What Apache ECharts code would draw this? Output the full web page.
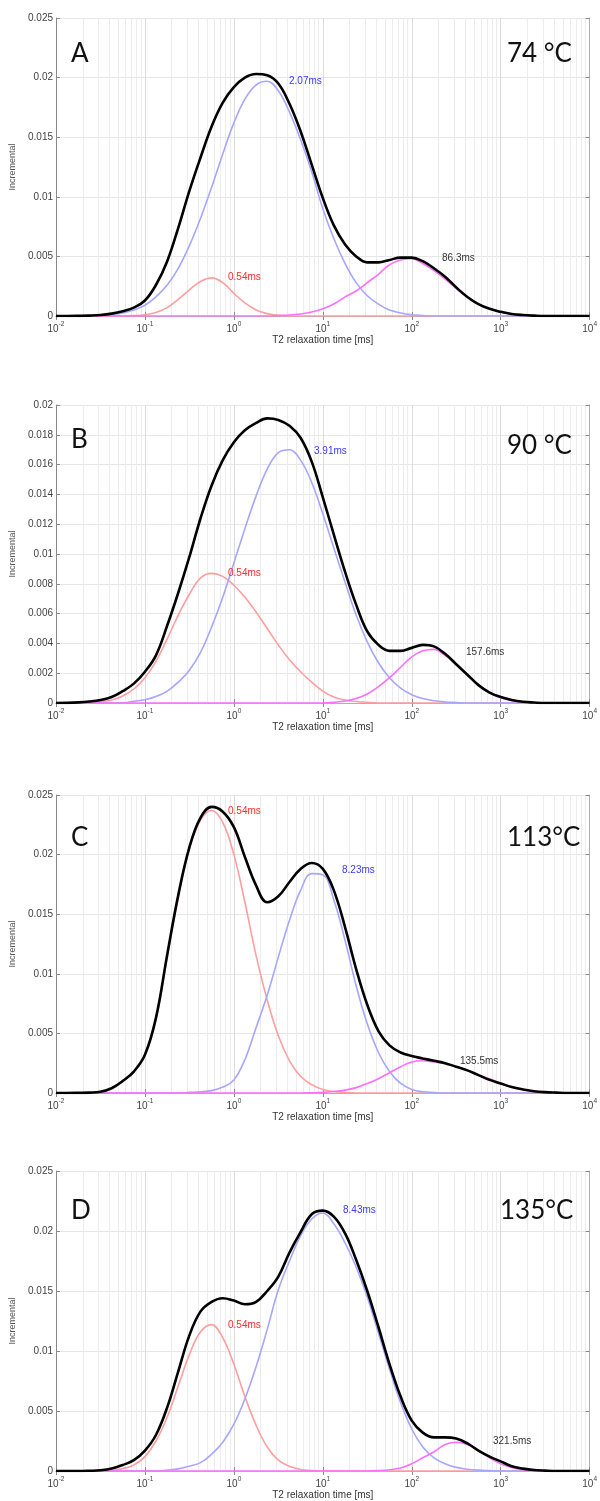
<!DOCTYPE html>
<html><head><meta charset="utf-8">
<script src="https://cdn.jsdelivr.net/npm/echarts@6/dist/echarts.min.js"></script>
<style>html,body{margin:0;padding:0;background:#fff}#c{width:600px;height:1501px}</style>
</head><body><div id="c"></div>
<script>
// T2 sample positions (ms), eighth-decade steps
const T2 = [0.01,0.0133,0.0178,0.0237,0.0316,0.0422,0.0562,0.075,0.1,0.133,0.178,0.237,0.316,0.422,0.562,0.75,1,1.33,1.78,2.37,3.16,4.22,5.62,7.5,10,13.3,17.8,23.7,31.6,42.2,56.2,75,100,133,178,237,316,422,562,750,1000,1330,1780,2370,3160,4220,5620,7500,10000];

// Panel A (74 °C)
const A_red   = [0,0,0,0,0,0,0,0.00003,0.0001,0.0003,0.0007,0.0014,0.0022,0.0029,0.0032,0.0028,0.0019,0.0011,0.0005,0.0002,0.00005,0,0,0,0,0,0,0,0,0,0,0,0,0,0,0,0,0,0,0,0,0,0,0,0,0,0,0,0];
const A_blue  = [0,0,0,0,0.00006,0.00013,0.00026,0.0005,0.0009,0.0016,0.0026,0.0040,0.0059,0.0082,0.0108,0.0136,0.0162,0.0182,0.0194,0.0197,0.0189,0.0171,0.0148,0.0121,0.0090,0.0065,0.0044,0.0028,0.0017,0.0010,0.0005,0.00025,0.0001,0.00004,0,0,0,0,0,0,0,0,0,0,0,0,0,0,0];
const A_mag   = [0,0,0,0,0,0,0,0,0,0,0,0,0,0,0,0,0,0,0,0,0.00004,0.00008,0.00017,0.00033,0.0006,0.0010,0.0016,0.0021,0.0028,0.0035,0.0043,0.0047,0.0048,0.0044,0.0038,0.0031,0.0023,0.0016,0.0010,0.0006,0.00034,0.00017,0.00008,0.00003,0,0,0,0,0];
const A_total = [0,0,0.00001,0.00003,0.00008,0.0002,0.0004,0.0007,0.0013,0.0026,0.0046,0.0074,0.0105,0.0133,0.0159,0.0179,0.0192,0.0200,0.0203,0.0202,0.0195,0.0178,0.0155,0.0127,0.0099,0.0076,0.0060,0.0050,0.0045,0.0045,0.0047,0.0049,0.0049,0.0046,0.0040,0.0033,0.0024,0.0016,0.0010,0.0006,0.00035,0.00017,0.00008,0.00003,0,0,0,0,0];
// Panel B (90 °C)
const B_red   = [0,0,0,0.00003,0.00009,0.0002,0.00047,0.00094,0.0017,0.0028,0.0043,0.0059,0.0073,0.0084,0.0087,0.0085,0.0079,0.0071,0.0061,0.0050,0.0039,0.0029,0.0021,0.0014,0.0008,0.0004,0.0002,0.0001,0.00004,0,0,0,0,0,0,0,0,0,0,0,0,0,0,0,0,0,0,0,0];
const B_blue  = [0,0,0,0,0,0,0,0.00011,0.00022,0.00043,0.0008,0.0014,0.0022,0.0034,0.0051,0.0071,0.0094,0.0117,0.0139,0.0157,0.0168,0.0170,0.0163,0.0148,0.0127,0.0104,0.0081,0.0059,0.0041,0.0027,0.0017,0.0010,0.00056,0.0003,0.00015,0.00007,0.00003,0,0,0,0,0,0,0,0,0,0,0,0];
const B_mag   = [0,0,0,0,0,0,0,0,0,0,0,0,0,0,0,0,0,0,0,0,0,0,0,0,0,0.00005,0.00013,0.0003,0.0006,0.0011,0.0017,0.0024,0.0031,0.0035,0.0036,0.0032,0.0026,0.0019,0.0012,0.0007,0.00035,0.00016,0.00007,0.00002,0,0,0,0,0];
const B_total = [0,0.00001,0.00004,0.0001,0.0002,0.0004,0.0008,0.0013,0.0021,0.0032,0.0052,0.0074,0.0098,0.0124,0.0146,0.0163,0.0175,0.0183,0.0188,0.0191,0.0190,0.0186,0.0178,0.0162,0.0138,0.0113,0.0088,0.0066,0.0048,0.0039,0.0035,0.0035,0.0037,0.0039,0.0038,0.0033,0.0026,0.0019,0.0012,0.0007,0.0004,0.0002,0.00008,0.00003,0,0,0,0,0];
// Panel C (113 °C)
const C_red   = [0,0,0,0.00002,0.0001,0.0004,0.0010,0.0018,0.0032,0.0062,0.0114,0.0164,0.0205,0.0229,0.0237,0.0227,0.0200,0.0160,0.0115,0.0078,0.0048,0.0027,0.0014,0.0007,0.0003,0.00012,0.00004,0,0,0,0,0,0,0,0,0,0,0,0,0,0,0,0,0,0,0,0,0,0];
const C_blue  = [0,0,0,0,0,0,0,0,0,0,0,0,0.00005,0.0001,0.0002,0.0005,0.0011,0.0028,0.0055,0.0082,0.0114,0.0145,0.0170,0.0184,0.0183,0.0162,0.0128,0.0090,0.0058,0.0034,0.0018,0.0008,0.0003,0.0001,0.00004,0,0,0,0,0,0,0,0,0,0,0,0,0,0];
const C_mag   = [0,0,0,0,0,0,0,0,0,0,0,0,0,0,0,0,0,0,0,0,0,0,0,0.00002,0.00005,0.00012,0.00024,0.00045,0.0008,0.0012,0.0017,0.0022,0.0026,0.0027,0.0026,0.0025,0.0022,0.0019,0.0015,0.0012,0.0008,0.0005,0.0003,0.00015,0.00007,0.00003,0,0,0];
const C_total = [0,0,0.00001,0.00003,0.0001,0.0004,0.0010,0.0018,0.0032,0.0063,0.0116,0.0166,0.0206,0.0231,0.0240,0.0236,0.0223,0.0198,0.0174,0.0160,0.0165,0.0177,0.0188,0.0193,0.0188,0.0170,0.0139,0.0104,0.0074,0.0052,0.0040,0.0034,0.0031,0.0029,0.0027,0.0025,0.0022,0.0019,0.0015,0.0011,0.0008,0.0005,0.0003,0.00015,0.00007,0.00003,0,0,0];
// Panel D (135 °C)
const D_red   = [0,0,0,0,0.00002,0.00006,0.0002,0.0005,0.0012,0.0025,0.0045,0.0071,0.0097,0.0116,0.0122,0.0111,0.0089,0.0062,0.0038,0.0020,0.0009,0.0004,0.00013,0.00004,0,0,0,0,0,0,0,0,0,0,0,0,0,0,0,0,0,0,0,0,0,0,0,0,0];
const D_blue  = [0,0,0,0,0,0,0,0,0,0,0.00008,0.00018,0.0004,0.0007,0.0014,0.0024,0.0039,0.0060,0.0087,0.0118,0.0151,0.0175,0.0196,0.0210,0.0215,0.0206,0.0190,0.0170,0.0145,0.0115,0.0085,0.0057,0.0035,0.0020,0.0011,0.0006,0.0003,0.00015,0.00007,0.00003,0,0,0,0,0,0,0,0,0];
const D_mag   = [0,0,0,0,0,0,0,0,0,0,0,0,0,0,0,0,0,0,0,0,0,0,0,0,0,0,0,0,0,0.00003,0.0001,0.00025,0.0006,0.0011,0.0016,0.0022,0.0024,0.0022,0.0017,0.0011,0.0006,0.0003,0.0001,0.00004,0,0,0,0,0];
const D_total = [0,0,0,0.00002,0.00006,0.0002,0.0005,0.0009,0.0017,0.0030,0.0053,0.0083,0.0113,0.0133,0.0141,0.0144,0.0142,0.0139,0.0141,0.0150,0.0162,0.0182,0.0199,0.0214,0.0217,0.0212,0.0198,0.0176,0.0150,0.0120,0.0089,0.0062,0.0042,0.0032,0.0028,0.0028,0.0027,0.0023,0.0017,0.0012,0.0008,0.0004,0.0002,0.00008,0.00003,0,0,0,0];

const panelLetters = ['A','B','C','D'];
const panelTemps = ['74 °C','90 °C','113°C','135°C'];
const peakLabels = [['0.54ms','2.07ms','86.3ms'],['0.54ms','3.91ms','157.6ms'],['0.54ms','8.23ms','135.5ms'],['0.54ms','8.43ms','321.5ms']];
const yMaxes = [0.025,0.02,0.025,0.025];
const ySteps = [0.005,0.002,0.005,0.005];
const xMin = 0.01, xMax = 10000;
const xName = 'T2 relaxation time [ms]';
const yName = 'Incremental';

const panels = [
  [A_red,A_blue,A_mag,A_total],
  [B_red,B_blue,B_mag,B_total],
  [C_red,C_blue,C_mag,C_total],
  [D_red,D_blue,D_mag,D_total]
];

// layout (pixels)
const gridTops = [18,405,795,1171];
const gridHeights = [298,298,298,300];
const letterPos = [[71,57],[71,443],[71,841],[71,1214]];
const tempPos = [[507,57],[507,449],[507,841],[500,1214]];
const peakPos = [
  [[228,278],[289,82],[442,259]],
  [[228,574],[314,452],[466,653]],
  [[228,812],[342,871],[460,1062]],
  [[228,1326],[343,1211],[493,1442]]
];
const peakColors = ['#ff2a2a','#3a3aff','#333333'];
const curveColors = ['#ff9e9e','#a6a6ff','#ff6eff','#000000'];
const curveWidths = [1.6,1.6,1.6,2.6];

// minor grid positions 2..9 x 10^k
const minorX = [];
for (let k=-2;k<4;k++) for (let m=2;m<10;m++) minorX.push(m*Math.pow(10,k));

const grid=[], xAxis=[], yAxis=[], series=[], graphic=[];
const F = 'Liberation Sans, Arial, sans-serif';
panels.forEach((p,i)=>{
  grid.push({left:56,right:10,top:gridTops[i],height:gridHeights[i],containLabel:false});
  xAxis.push({type:'log',logBase:10,gridIndex:i,min:xMin,max:xMax,splitNumber:6,
    name:xName,nameLocation:'middle',nameGap:18,nameTextStyle:{fontSize:10,color:'#333',fontFamily:F},
    axisLine:{show:true,lineStyle:{color:'#8a8a8a',width:1}},
    axisTick:{show:true,inside:true,length:4,lineStyle:{color:'#8a8a8a'}},
    splitLine:{show:true,lineStyle:{color:'#dcdcdc',width:1}},
    axisLabel:{margin:5,formatter:v=>'{b|10}{s|'+Math.round(Math.log10(v))+'}',
      rich:{b:{fontSize:10,color:'#444',fontFamily:F,verticalAlign:'bottom',lineHeight:13},
            s:{fontSize:6.5,color:'#444',fontFamily:F,verticalAlign:'top',lineHeight:13}}}});
  xAxis.push({type:'log',logBase:10,gridIndex:i,min:xMin,max:xMax,splitNumber:6,position:'top',
    axisLine:{show:true,lineStyle:{color:'#b0b0b0',width:1}},
    axisTick:{show:true,inside:true,length:4,lineStyle:{color:'#8a8a8a'}},
    axisLabel:{show:false},splitLine:{show:false}});
  yAxis.push({type:'value',gridIndex:i,min:0,max:yMaxes[i],interval:ySteps[i],
    name:yName,nameLocation:'middle',nameGap:36,nameRotate:90,nameTextStyle:{fontSize:9,color:'#555',fontFamily:F},
    axisLine:{show:true,lineStyle:{color:'#8a8a8a',width:1}},
    axisTick:{show:true,inside:true,length:4,lineStyle:{color:'#8a8a8a'}},
    splitLine:{show:true,lineStyle:{color:'#e6e6e6',width:1}},
    axisLabel:{margin:3,fontSize:10,color:'#444',fontFamily:F}});
  yAxis.push({type:'value',gridIndex:i,min:0,max:yMaxes[i],interval:ySteps[i],position:'right',
    axisLine:{show:true,lineStyle:{color:'#b0b0b0',width:1}},
    axisTick:{show:true,inside:true,length:4,lineStyle:{color:'#8a8a8a'}},
    axisLabel:{show:false},splitLine:{show:false}});
  // minor vertical grid lines (kept underneath the curves)
  series.push({type:'line',xAxisIndex:2*i,yAxisIndex:2*i,data:[[1,0]],showSymbol:false,symbol:'none',
    lineStyle:{width:0,opacity:0},z:0,silent:true,
    markLine:{z:0,zlevel:0,silent:true,symbol:'none',label:{show:false},animation:false,
      lineStyle:{color:'#ececec',type:'solid',width:1},data:minorX.map(v=>({xAxis:v}))}});
  p.forEach((arr,j)=>{
    series.push({type:'line',xAxisIndex:2*i,yAxisIndex:2*i,smooth:0.4,symbol:'none',
      z:10+j,lineStyle:{color:curveColors[j],width:curveWidths[j]},
      data:T2.map((x,k)=>[x,arr[k]])});
  });
  graphic.push({type:'text',z:100,left:letterPos[i][0],top:letterPos[i][1]-16,style:{text:panelLetters[i],font:'26px Lato, "Open Sans", sans-serif',fill:'#111'}});
  graphic.push({type:'text',z:100,left:tempPos[i][0],top:tempPos[i][1]-16,style:{text:panelTemps[i],font:'26px Lato, "Open Sans", sans-serif',fill:'#111'}});
  peakLabels[i].forEach((t,j)=>{
    graphic.push({type:'text',z:100,left:peakPos[i][j][0],top:peakPos[i][j][1]-6,style:{text:t,font:'10px '+F,fill:peakColors[j]}});
  });
});

const chart = echarts.init(document.getElementById('c'),null,{renderer:'canvas'});
chart.setOption({animation:false,backgroundColor:'#fff',grid,xAxis,yAxis,series,graphic});
</script></body></html>
